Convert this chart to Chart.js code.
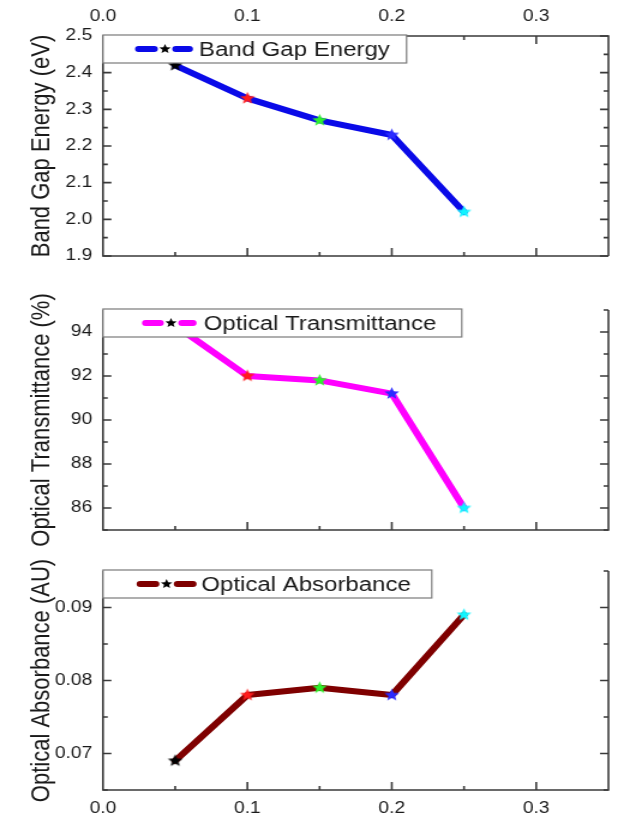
<!DOCTYPE html>
<html>
<head>
<meta charset="utf-8">
<script src="https://cdn.jsdelivr.net/npm/chart.js@4.4.1/dist/chart.umd.min.js"></script>
<style>
  html, body { margin: 0; padding: 0; background: #fff; }
  #wrap { position: relative; width: 624px; height: 819px; overflow: hidden; }
  #wrap canvas { position: absolute; left: 0; top: 0; }
</style>
</head>
<body>
<div id="wrap">
  <canvas id="c1" width="520" height="819" style="width:624px;height:819px"></canvas>
  <canvas id="c2" width="520" height="819" style="width:624px;height:819px"></canvas>
  <canvas id="c3" width="520" height="819" style="width:624px;height:819px"></canvas>
</div>
<script>
// data
const xValues = [0.05, 0.10, 0.15, 0.20, 0.25];
const bandGap = [2.42, 2.33, 2.27, 2.23, 2.02];
const transmittance = [94.3, 92.0, 91.8, 91.2, 86.0];
const absorbance = [0.069, 0.078, 0.079, 0.078, 0.089];
const starColors = ['#000000', '#ff1c1c', '#2ef02e', '#2a2aff', '#10f4ff'];

// axis ticks
const xTicks = [0.0, 0.1, 0.2, 0.3];
const xMinorTicks = [0.05, 0.15, 0.25];
const bandTicks = [1.9, 2.0, 2.1, 2.2, 2.3, 2.4, 2.5];
const bandMinor = [1.95, 2.05, 2.15, 2.25, 2.35, 2.45];
const transTicks = [86, 88, 90, 92, 94];
const transMinor = [85, 87, 89, 91, 93, 95];
const absTicks = [0.07, 0.08, 0.09];
const absMinor = [0.065, 0.075, 0.085, 0.095];

const FONT = '"Liberation Sans", Arial, Helvetica, sans-serif';
const INK = '#1a1a1a';
const AXIS = '#3a3a3a';

function drawStar(g, cx, cy, r, color) {
  g.beginPath();
  for (let i = 0; i < 10; i++) {
    const rad = i % 2 === 0 ? r : r * 0.44;
    const ang = -Math.PI / 2 + i * Math.PI / 5;
    g.lineTo(cx + rad * Math.cos(ang), cy + rad * Math.sin(ang));
  }
  g.closePath();
  g.fillStyle = color;
  g.fill();
}

function makeStar(color, r) {
  const c = document.createElement('canvas');
  const s = Math.ceil(r * 2 + 2);
  c.width = s; c.height = s;
  drawStar(c.getContext('2d'), s / 2, s / 2, r, color);
  return c;
}

// axis lines + inward ticks, drawn through the chart scales
const framePlugin = {
  id: 'frame',
  afterDatasetsDraw(chart, args, opts) {
    const { ctx, chartArea: a } = chart;
    const x = chart.scales.x, y = chart.scales.y;
    ctx.save();
    ctx.strokeStyle = AXIS;
    ctx.lineWidth = 1.6;
    ctx.beginPath();
    if (opts.top) {
      ctx.moveTo(a.right, a.bottom); ctx.lineTo(a.right, a.top);
      ctx.lineTo(a.left, a.top); ctx.lineTo(a.left, a.bottom);
      ctx.lineTo(a.right, a.bottom);
    } else {
      ctx.moveTo(a.left, a.top); ctx.lineTo(a.left, a.bottom);
      ctx.lineTo(a.right, a.bottom); ctx.lineTo(a.right, a.top);
    }
    ctx.stroke();

    ctx.beginPath();
    const xt = (vals, len) => vals.forEach(v => {
      const px = x.getPixelForValue(v);
      if (px <= a.left + 1 || px >= a.right - 1) return;
      ctx.moveTo(px, a.bottom); ctx.lineTo(px, a.bottom - len);
      if (opts.top) { ctx.moveTo(px, a.top); ctx.lineTo(px, a.top + len); }
    });
    xt(xTicks, 8);
    xt(xMinorTicks, 4);
    const yt = (vals, len) => vals.forEach(v => {
      const py = y.getPixelForValue(v);
      ctx.moveTo(a.left, py); ctx.lineTo(a.left + len, py);
      ctx.moveTo(a.right, py); ctx.lineTo(a.right - len, py);
    });
    yt(opts.major, 7);
    yt(opts.minor, 4);
    ctx.stroke();
    ctx.restore();
  }
};

// boxed legend in the upper left corner of each panel
const boxLegendPlugin = {
  id: 'boxLegend',
  afterDraw(chart, args, o) {
    const { ctx, chartArea: a } = chart;
    const ds = chart.data.datasets[0];
    const top = a.top - 1, h = 28, left = a.left;
    const cy = top + h / 2;
    ctx.save();
    ctx.fillStyle = '#fff';
    ctx.fillRect(left, top, o.boxW, h);
    ctx.strokeStyle = '#7a7a7a';
    ctx.lineWidth = 1.2;
    ctx.strokeRect(left, top, o.boxW, h);

    ctx.strokeStyle = ds.borderColor;
    ctx.lineWidth = 6;
    ctx.lineCap = 'round';
    ctx.beginPath();
    ctx.moveTo(left + o.from + 3, cy); ctx.lineTo(left + o.star - 9, cy);
    ctx.moveTo(left + o.star + 9, cy); ctx.lineTo(left + o.to - 3, cy);
    ctx.stroke();
    drawStar(ctx, left + o.star, cy, 5, '#000');

    ctx.fillStyle = INK;
    ctx.font = '20px ' + FONT;
    ctx.textBaseline = 'middle';
    ctx.textAlign = 'left';
    ctx.fillText(ds.label, left + o.text, cy + 1);
    ctx.restore();
  }
};

const Y_AXIS_W = 85.8;

function makePanel(id, p) {
  const xAxis = {
    type: 'linear',
    min: 0,
    max: 0.35,
    display: p.xPos !== null,
    position: p.xPos || 'bottom',
    afterBuildTicks: s => { s.ticks = xTicks.map(v => ({ value: v })); },
    afterFit: s => { s.height = p.xHeight; },
    grid: { display: false, drawTicks: false },
    border: { display: false },
    ticks: {
      callback: v => v.toFixed(1),
      font: { family: FONT, size: 16 },
      color: INK,
      padding: p.xPad,
      maxRotation: 0
    }
  };
  return new Chart(document.getElementById(id), {
    type: 'line',
    data: {
      datasets: [{
        label: p.label,
        data: p.values.map((v, i) => ({ x: xValues[i], y: v })),
        borderColor: p.color,
        borderWidth: 6,
        borderCapStyle: 'round',
        borderJoinStyle: 'round',
        tension: 0,
        pointStyle: starColors.map(c => makeStar(c, 6.5)),
        pointRadius: 7,
        clip: false
      }]
    },
    options: {
      responsive: false,
      animation: false,
      devicePixelRatio: 1,
      events: [],
      layout: { padding: p.padding },
      plugins: {
        legend: { display: false },
        tooltip: { enabled: false },
        frame: { top: p.xPos === 'top', major: p.major, minor: p.minor },
        boxLegend: p.legend
      },
      scales: {
        x: xAxis,
        y: {
          min: p.min,
          max: p.max,
          afterBuildTicks: s => { s.ticks = p.major.map(v => ({ value: v })); },
          afterFit: s => { s.width = Y_AXIS_W; },
          grid: { display: false, drawTicks: false },
          border: { display: false },
          ticks: {
            callback: v => v.toFixed(p.dec),
            font: { family: FONT, size: 16 },
            color: INK,
            padding: 9
          },
          title: {
            display: true,
            text: p.title,
            font: { family: FONT, size: 22 },
            color: INK,
            padding: { top: 22, bottom: 0 }
          }
        }
      }
    },
    plugins: [framePlugin, boxLegendPlugin]
  });
}

makePanel('c1', {
  label: 'Band Gap Energy', title: 'Band Gap Energy (eV)',
  values: bandGap, color: '#0a0ae8',
  min: 1.9, max: 2.5, major: bandTicks, minor: bandMinor, dec: 1,
  xPos: 'top', xHeight: 36, xPad: 10,
  padding: { left: 0, right: 3.3, top: 0, bottom: 563 },
  legend: { boxW: 253, from: 26.7, star: 51.7, to: 75, text: 80 }
});

makePanel('c2', {
  label: 'Optical Transmittance', title: 'Optical Transmittance (%)',
  values: transmittance, color: '#ff00ff',
  min: 85, max: 95, major: transTicks, minor: transMinor, dec: 0,
  xPos: null, xHeight: 0, xPad: 0,
  padding: { left: 0, right: 3.3, top: 310, bottom: 289 },
  legend: { boxW: 299, from: 32.5, star: 56.7, to: 78, text: 84 }
});

makePanel('c3', {
  label: 'Optical Absorbance', title: 'Optical Absorbance (AU)',
  values: absorbance, color: '#7f0000',
  min: 0.065, max: 0.095, major: absTicks, minor: absMinor, dec: 2,
  xPos: 'bottom', xHeight: 29, xPad: 9,
  padding: { left: 0, right: 3.3, top: 571, bottom: 0 },
  legend: { boxW: 274, from: 28, star: 53, to: 78, text: 82 }
});
</script>
</body>
</html>
